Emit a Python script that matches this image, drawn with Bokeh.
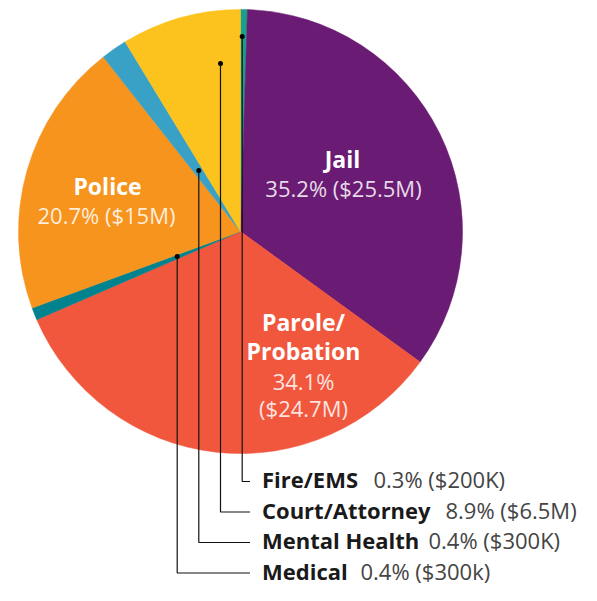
import math
from bokeh.plotting import figure
from bokeh.models import Range1d, ColumnDataSource
from bokeh.embed import file_html
from bokeh.resources import INLINE
from bokeh.core.properties import value

# ---- data (clockwise from 12 o'clock) ----
categories = ["Fire/EMS", "Jail", "Parole/Probation", "Medical", "Police", "Mental Health", "Court/Attorney"]
drawn_share = [0.5, 34.5, 33.5, 0.9, 20.0, 1.9, 8.7]   # slice sizes as drawn in the picture
pct_labels = ["0.3%", "35.2%", "34.1%", "0.4%", "20.7%", "0.4%", "8.9%"]
amount_labels = ["($200K)", "($25.5M)", "($24.7M)", "($300k)", "($15M)", "($300K)", "($6.5M)"]
colors = ["#17a08d", "#6a1b73", "#f1573d", "#00838f", "#f7941e", "#39a1c6", "#fcc31f"]

# ---- layout ----
W, H = 581, 585
def Y(py):
    return H - py

p = figure(width=W, height=H, x_range=Range1d(0, W), y_range=Range1d(0, H),
           output_backend="svg", toolbar_location=None, min_border=0)
p.axis.visible = False
p.grid.visible = False
p.outline_line_color = None
p.background_fill_color = "white"

CX, CY, R = 240, Y(231), 222
total = sum(drawn_share)
starts, ends = [], []
a = 90.0
for s in drawn_share:
    b = a - s / total * 360.0
    starts.append(math.radians(b))
    ends.append(math.radians(a))
    a = b

src = ColumnDataSource(dict(cat=categories, start=starts, end=ends, color=colors))
p.wedge(x=CX, y=CY, radius=R, start_angle="start", end_angle="end", direction="anticlock",
        fill_color="color", line_color="color", line_width=0.5, source=src)

FONT = value("Open Sans")
WHITE = "#ffffff"

def txt(x, y, t, size, bold=False, color=WHITE, align="center", alpha=1.0):
    p.text(x=[x], y=[Y(y)], text=[t], text_font=FONT, text_font_size=size,
           text_font_style="bold" if bold else "normal", text_color=color,
           text_align=align, text_baseline="middle", text_alpha=alpha)

idx = {c: i for i, c in enumerate(categories)}

# in-slice labels (y = visual centre of capitals)
i = idx["Jail"]
txt(342, 158.5, "Jail", "23px", bold=True)
txt(343, 187.5, f"{pct_labels[i]} {amount_labels[i]}", "22px", alpha=0.85)
i = idx["Police"]
txt(107, 185, "Police", "23px", bold=True)
txt(106, 214, f"{pct_labels[i]} {amount_labels[i]}", "22px", alpha=0.85)
i = idx["Parole/Probation"]
txt(303, 321.5, "Parole/", "23px", bold=True)
txt(303, 350, "Probation", "23px", bold=True)
txt(303, 380, pct_labels[i], "22px", alpha=0.85)
txt(303, 407, amount_labels[i], "22px", alpha=0.85)

# leader-line callouts for small slices
callouts = [
    # (category, dot_x, dot_y, row_y, value_x)
    ("Fire/EMS", 241.7, 36, 481, 373),
    ("Court/Attorney", 220, 63, 511.5, 445),
    ("Mental Health", 198.3, 170, 542, 428),
    ("Medical", 176.7, 256, 572.5, 360),
]
LX_END = 249.5
for cat, dx, dy, ry, vx in callouts:
    i = idx[cat]
    p.line(x=[dx, dx, LX_END], y=[Y(dy), Y(ry), Y(ry)], line_color="#111111", line_width=1.2)
    p.scatter(x=[dx], y=[Y(dy)], size=5, fill_color="#000000", line_color=None)
    txt(261.5, ry - 2.5, cat, "22px", bold=True, color="#1a1a1a", align="left")
    txt(vx, ry - 2.5, f"{pct_labels[i]} {amount_labels[i]}", "22px", color="#444444", align="left")

open("out.html", "w").write(file_html(p, INLINE))
